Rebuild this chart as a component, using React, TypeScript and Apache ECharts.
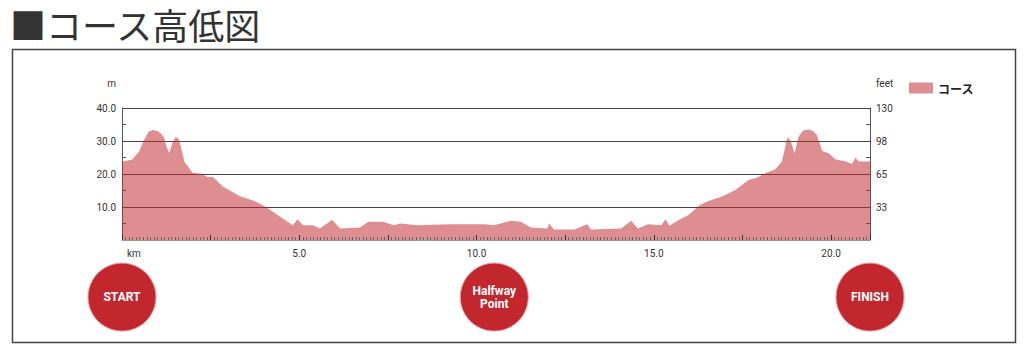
import React, { useEffect, useRef } from 'react';
import * as echarts from 'echarts';

// Course elevation profile (distance in km, elevation in m)
const distanceKm = [
  0, 0.29, 0.48, 0.62, 0.75, 0.86, 1.0, 1.1, 1.19, 1.25, 1.33, 1.42, 1.52, 1.6, 1.66, 1.76,
  1.99, 2.27, 2.42, 2.56, 2.84, 3.31, 3.79, 4.07, 4.45, 4.82, 4.95, 5.11, 5.39, 5.58, 5.93,
  6.15, 6.71, 6.95, 7.37, 7.66, 7.85, 8.32, 9.26, 10.21, 10.49, 10.96, 11.25, 11.53, 12.0,
  12.04, 12.19, 12.76, 13.12, 13.23, 14.08, 14.36, 14.55, 14.84, 15.21, 15.33, 15.44, 15.69,
  15.97, 16.3, 16.54, 16.91, 17.29, 17.67, 17.9, 18.14, 18.42, 18.61, 18.77, 18.86, 18.97,
  19.08, 19.21, 19.37, 19.49, 19.6, 19.75, 19.93, 20.12, 20.41, 20.59, 20.69, 20.77, 21.0975,
];
const elevationM = [
  23.7, 24.4, 26.8, 30.3, 32.8, 33.3, 33.0, 32.3, 31.0, 28.5, 26.3, 29.5, 31.3, 30.5, 28.3, 23.7,
  20.4, 20.0, 19.0, 19.2, 16.2, 13.3, 11.6, 9.9, 7.1, 4.5, 6.3, 4.5, 4.5, 3.5, 6.1,
  3.5, 3.8, 5.5, 5.5, 4.5, 5.0, 4.5, 4.8, 4.8, 4.5, 5.8, 5.5, 3.8, 3.5,
  5.0, 3.2, 3.2, 4.8, 3.2, 3.5, 5.8, 3.5, 4.8, 4.5, 6.3, 4.3, 6.0,
  7.5, 10.6, 11.8, 13.1, 15.1, 18.2, 18.9, 20.2, 21.4, 23.7, 31.1, 30.0, 26.3,
  31.3, 33.2, 33.5, 33.0, 31.8, 27.0, 26.3, 24.5, 23.8, 23.0, 25.0, 23.8, 23.8,
];

// Right axis labels in feet, one per metre tick (0, 10, 20, 30, 40)
const metreTicks = [0, 10, 20, 30, 40];
const feetLabels = ['', '33', '65', '98', '130'];

// Course markers
const markerKm = [0, 10.5, 21.0975];
const markerNames = ['START', 'Halfway\nPoint', 'FINISH'];

const seriesName = 'コース';
const titleText = '■コース高低図';

export default function App() {
  const ref = useRef<HTMLDivElement>(null);

  useEffect(() => {
    if (!ref.current) return;
    const chart = echarts.init(ref.current, null, { renderer: 'svg' });
    const fill = 'rgba(193,39,45,0.53)';
    const red = '#c1272d';
    const markerY = -17.3;
    const font = 'Roboto, "Noto Sans", sans-serif';

    const option: any = {
      animation: false,
      textStyle: { fontFamily: font },
      grid: { left: 122, right: 154, top: 108, bottom: 117 },
      legend: {
        data: [seriesName],
        left: 904,
        top: 77,
        icon: 'rect',
        itemWidth: 24,
        itemHeight: 11,
        itemGap: 6,
        textStyle: { fontSize: 12, fontWeight: 'bold', color: '#222', fontFamily: '"Noto Sans CJK JP", sans-serif' },
      },
      graphic: [
        {
          type: 'text',
          left: 10,
          top: 5,
          style: {
            text: titleText,
            fontSize: 36,
            lineHeight: 38,
            fontFamily: '"Noto Sans CJK JP", sans-serif',
            fill: '#333',
          },
        },
        {
          type: 'rect',
          shape: { x: 12.5, y: 49.5, width: 1003, height: 293 },
          style: { fill: 'none', stroke: '#444', lineWidth: 1.5 },
        },
        {
          type: 'text',
          left: 127,
          top: 248,
          style: { text: 'km', fontSize: 10, fontFamily: font, fill: '#333' },
        },
      ],
      xAxis: {
        type: 'value',
        min: 0,
        max: 21.0975,
        interval: 2.5,
        z: 5,
        axisLine: { show: true, lineStyle: { color: '#999' } },
        axisTick: { show: true, inside: true, length: 5, lineStyle: { color: '#333' } },
        minorTick: { show: true, splitNumber: 25, length: 3, lineStyle: { color: '#666' } },
        axisLabel: {
          fontSize: 10,
          color: '#333',
          margin: 8,
          formatter: (v: number) => (v > 0 && Math.abs(v % 5) < 1e-9 ? v.toFixed(1) : ''),
        },
        splitLine: { show: false },
      },
      yAxis: [
        {
          type: 'value',
          min: 0,
          max: 40,
          interval: 10,
          name: 'm',
          nameGap: 20,
          nameTextStyle: { align: 'right', padding: [0, 6, 0, 0], fontSize: 10, color: '#333' },
          axisLine: { show: true, lineStyle: { color: '#555' } },
          axisTick: { show: false, inside: true },
          minorTick: { show: true, splitNumber: 2, length: 4, lineStyle: { color: '#555' } },
          axisLabel: {
            fontSize: 10,
            color: '#333',
            margin: 6,
            formatter: (v: number) => (v === 0 ? '' : v.toFixed(1)),
          },
          splitLine: { show: true, lineStyle: { color: '#444', width: 1 } },
        },
        {
          type: 'value',
          position: 'right',
          min: 0,
          max: 40,
          interval: 10,
          name: 'feet',
          nameGap: 20,
          nameTextStyle: { align: 'left', padding: [0, 0, 0, 6], fontSize: 10, color: '#333' },
          axisLine: { show: true, lineStyle: { color: '#555' } },
          axisTick: { show: false, inside: true },
          minorTick: { show: true, splitNumber: 2, length: 4, lineStyle: { color: '#555' } },
          axisLabel: {
            fontSize: 10,
            color: '#333',
            margin: 6,
            formatter: (v: number) => {
              const i = metreTicks.indexOf(v);
              return i >= 0 ? feetLabels[i] : '';
            },
          },
          splitLine: { show: false },
        },
      ],
      series: [
        {
          name: seriesName,
          type: 'line',
          data: distanceKm.map((d, i) => [d, elevationM[i]]),
          showSymbol: false,
          symbol: 'none',
          lineStyle: { width: 0 },
          itemStyle: { color: fill },
          areaStyle: { color: fill, opacity: 1 },
          z: 2,
        },
        {
          name: 'markers',
          type: 'scatter',
          clip: false,
          data: markerKm.map((k, i) => ({ value: [k, markerY], name: markerNames[i] })),
          symbolSize: 68,
          itemStyle: { color: red, borderColor: '#ec9ea1', borderWidth: 1, opacity: 1 },
          label: {
            show: true,
            position: 'inside',
            formatter: '{b}',
            color: '#fff',
            fontWeight: 'bold',
            fontSize: 12,
            lineHeight: 13,
            fontFamily: font,
          },
          z: 6,
          markLine: {
            silent: true,
            z: 1,
            symbol: ['circle', 'none'],
            symbolSize: 5,
            label: { show: false },
            lineStyle: { color: red, width: 1, type: 'solid' },
            itemStyle: { color: red },
            data: markerKm.map((k) => [{ coord: [k, 0] }, { coord: [k, markerY] }]),
          },
        },
      ],
    };

    chart.setOption(option);
    return () => chart.dispose();
  }, []);

  return <div ref={ref} style={{ position: 'absolute', left: 0, top: 0, width: 1024, height: 357 }} />;
}
